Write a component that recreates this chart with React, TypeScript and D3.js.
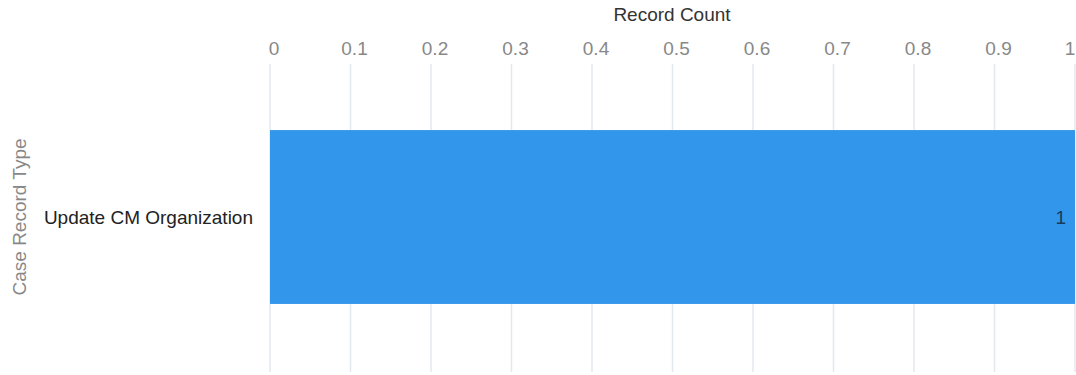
import React from "react";
import * as d3 from "d3";

const categories = ["Update CM Organization"];
const values = [1];
const xTicks = [0, 0.1, 0.2, 0.3, 0.4, 0.5, 0.6, 0.7, 0.8, 0.9, 1];
const xTitle = "Record Count";
const yTitle = "Case Record Type";

export default function App() {
  const W = 1076, H = 375;
  const left = 270, right = 1075, top = 64, bottom = 372;
  const x = d3.scaleLinear().domain([0, 1]).range([left, right]);
  const y = d3.scaleBand().domain(categories).range([top, bottom - 2]).paddingInner(0).paddingOuter(0.38);
  const font = "'Liberation Sans', Arial, sans-serif";
  const fs = 19;
  return (
    <svg width={W} height={H} style={{ position: "absolute", left: 0, top: 0, background: "#fff" }} fontFamily={font}>
      <text x={672} y={21} textAnchor="middle" fontSize={fs} fill="#333">{xTitle}</text>
      {xTicks.map((t) => (
        <g key={t}>
          <line x1={x(t)} x2={x(t)} y1={top} y2={bottom} stroke="#e3e8ef" strokeWidth={1.5} />
          <text x={t === 1 ? x(t) - 5 : x(t) + 4} y={55} textAnchor="middle" fontSize={fs} fill="#888">{t}</text>
        </g>
      ))}
      {categories.map((c, i) => (
        <g key={c}>
          <rect x={x(0)} y={y(c)} width={x(values[i]) - x(0)} height={y.bandwidth()} fill="#3296ea" />
          <text x={x(values[i]) - 9} y={(y(c) as number) + y.bandwidth() / 2} dy="0.35em" textAnchor="end" fontSize={fs} fill="#1a3a5a">{values[i]}</text>
          <text x={253} y={(y(c) as number) + y.bandwidth() / 2} dy="0.35em" textAnchor="end" fontSize={fs} fill="#222">{c}</text>
        </g>
      ))}
      <text transform={`translate(26,${217}) rotate(-90)`} textAnchor="middle" fontSize={fs} fill="#888">{yTitle}</text>
    </svg>
  );
}
